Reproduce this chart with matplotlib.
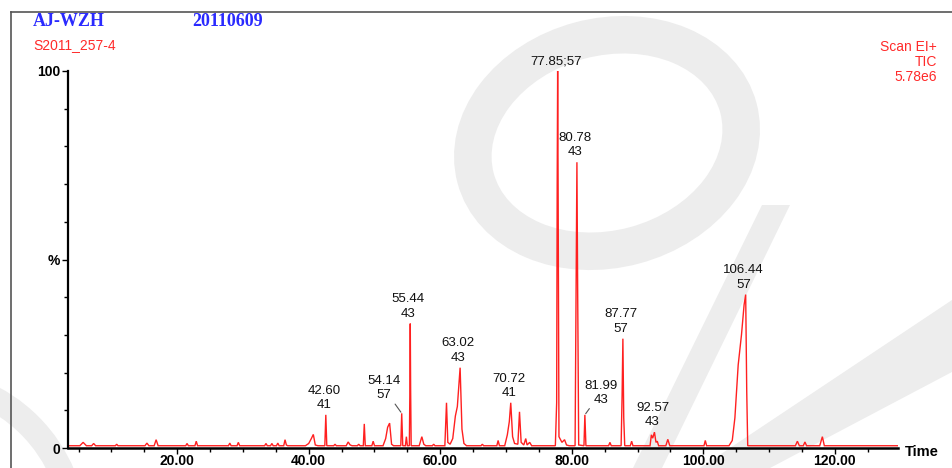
import numpy as np
import matplotlib
matplotlib.use("Agg")
import matplotlib.pyplot as plt
from matplotlib.patches import Ellipse, Polygon
from matplotlib.ticker import FixedLocator, MultipleLocator

# TIC trace, retention time (min) vs relative intensity (%)
trace_time = [
    3.4, 5.2, 5.7, 6.2, 7.0, 7.3, 7.6, 10.6, 10.8, 11.0, 15.1, 15.4, 15.7,
    16.5, 16.8, 17.1, 21.3, 21.5, 21.7, 22.7, 22.9, 23.1, 27.8, 28.0, 28.2,
    29.1, 29.3, 29.5, 33.3, 33.5, 33.7, 34.2, 34.4, 34.6, 35.1, 35.3, 35.5,
    36.2, 36.4, 36.6, 36.8, 39.5, 40.0, 40.4, 40.7, 41.0, 41.4,
    42.45, 42.6, 42.75, 43.8, 44.0, 44.2, 45.7, 46.0, 46.3, 46.6,
    47.4, 47.6, 47.8, 48.3, 48.45, 48.6, 49.6, 49.8, 50.0,
    51.3, 51.7, 52.0, 52.3, 52.6, 52.9, 54.0, 54.14, 54.3, 54.7, 54.85, 55.0,
    55.3, 55.38, 55.44, 55.5, 55.58, 56.8, 57.2, 57.5, 57.8, 58.8, 59.0, 59.2,
    60.7, 60.95, 61.15, 61.5, 61.9, 62.3, 62.6, 62.8, 63.02, 63.3, 63.6, 64.0,
    66.2, 66.4, 66.6, 68.6, 68.8, 69.0,
    69.8, 70.2, 70.5, 70.72, 71.0, 71.3, 71.8, 72.05, 72.3, 72.7, 73.0, 73.2,
    73.6, 73.9, 77.5, 77.7, 77.78, 77.85, 77.92, 78.05, 78.5, 78.9, 79.2, 79.6,
    80.5, 80.65, 80.78, 80.9, 81.05, 81.85, 81.99, 82.15, 85.6, 85.8, 86.0,
    87.5, 87.65, 87.77, 87.9, 88.05, 88.9, 89.1, 89.3,
    91.9, 92.1, 92.3, 92.57, 92.8, 93.0, 93.2, 94.3, 94.6, 94.9,
    100.1, 100.3, 100.5, 103.9, 104.4, 104.8, 105.3, 105.8, 106.2, 106.44,
    106.6, 106.75, 114.0, 114.3, 114.6, 115.2, 115.45, 115.7,
    117.7, 118.1, 118.4, 129.6,
]
trace_pct = [
    0.6, 0.6, 1.5, 0.6, 0.6, 1.2, 0.6, 0.6, 1.0, 0.6, 0.6, 1.3, 0.6,
    0.6, 2.2, 0.6, 0.6, 1.2, 0.6, 0.6, 1.8, 0.6, 0.6, 1.3, 0.6,
    0.6, 1.5, 0.6, 0.6, 1.2, 0.6, 0.6, 1.2, 0.6, 0.6, 1.3, 0.6,
    0.6, 2.2, 0.8, 0.6, 0.6, 1.2, 2.5, 3.6, 0.8, 0.6,
    0.6, 8.8, 0.6, 0.6, 1.0, 0.6, 0.6, 1.6, 0.8, 0.6,
    0.6, 1.0, 0.6, 0.6, 6.4, 0.6, 0.6, 1.8, 0.6,
    0.6, 2.5, 5.5, 6.6, 1.0, 0.6, 0.6, 9.2, 0.6, 0.6, 3.0, 0.6,
    0.6, 15.0, 33.0, 15.0, 0.6, 0.6, 3.0, 1.0, 0.6, 0.6, 1.0, 0.6,
    0.6, 12.0, 1.5, 1.0, 2.5, 8.5, 11.0, 16.0, 21.3, 5.0, 1.2, 0.6,
    0.6, 1.0, 0.6, 0.6, 2.0, 0.6,
    0.6, 3.5, 7.0, 12.0, 3.0, 1.2, 1.0, 9.6, 1.5, 0.8, 2.5, 0.8,
    1.5, 0.6, 0.6, 12.0, 70.0, 100.0, 70.0, 3.0, 1.5, 2.2, 0.8, 0.6,
    0.6, 40.0, 75.8, 40.0, 0.8, 0.6, 8.8, 0.6, 0.6, 1.5, 0.6,
    0.6, 14.0, 29.0, 8.0, 0.6, 0.6, 1.8, 0.6,
    0.6, 3.5, 2.6, 4.2, 1.5, 1.8, 0.6, 0.6, 2.3, 0.6,
    0.6, 2.0, 0.6, 0.6, 2.0, 8.0, 22.0, 30.0, 38.0, 40.7,
    15.0, 0.6, 0.6, 1.8, 0.6, 0.6, 1.6, 0.6,
    0.6, 3.0, 0.6, 0.6,
]

# labelled peaks: retention time and base peak m/z
peak_times = [42.60, 54.14, 55.44, 63.02, 70.72, 77.85, 80.78, 81.99, 87.77, 92.57, 106.44]
peak_mz = ["41", "57", "43", "43", "41", "57", "43", "43", "57", "43", "57"]

x_ticks = [20, 40, 60, 80, 100, 120]
x_tick_labels = ["20.00", "40.00", "60.00", "80.00", "100.00", "120.00"]

W, H = 952, 468
fig = plt.figure(figsize=(W / 100, H / 100), dpi=100)

# background layer in pixel units (frame + faint watermark)
bg = fig.add_axes([0, 0, 1, 1], zorder=0)
bg.set_xlim(0, W)
bg.set_ylim(H, 0)
bg.axis("off")
wm = "#ededed"
bg.add_patch(Ellipse((607, 143), 272, 212, angle=-15, fill=False, edgecolor=wm, lw=27))
bg.add_patch(Ellipse((-80, 535), 310, 310, fill=False, edgecolor=wm, lw=18))
bg.add_patch(Polygon([(633, 468), (662, 468), (790, 205), (762, 205)], closed=True, color=wm, lw=0))
bg.add_patch(Polygon([(700, 468), (770, 468), (952, 372), (952, 300)], closed=True, color=wm, lw=0))
bg.plot([11, W], [12, 12], color="#555555", lw=1.2)
bg.plot([11, 11], [12, H], color="#555555", lw=1.2)

ax = fig.add_axes([68 / W, 1 - 448 / H, (898 - 68) / W, (448 - 71) / H], zorder=1)
ax.patch.set_alpha(0)
ax.plot(trace_time, trace_pct, color="#ff2020", lw=1.0, solid_joinstyle="miter")
ax.set_xlim(3.4, 129.6)
ax.set_ylim(0, 100)

for side in ["top", "right"]:
    ax.spines[side].set_visible(False)
ax.spines["left"].set_linewidth(1.6)
ax.spines["bottom"].set_linewidth(1.8)

ax.xaxis.set_major_locator(FixedLocator(x_ticks))
ax.set_xticklabels(x_tick_labels)
ax.xaxis.set_minor_locator(MultipleLocator(5))
ax.set_yticks([0, 50, 100])
ax.set_yticklabels(["0", "%", "100"])
ax.yaxis.set_minor_locator(MultipleLocator(10))
ax.tick_params(axis="both", which="major", direction="out", length=4, width=1,
               labelsize=10)
ax.tick_params(axis="x", which="major", pad=0.3)
ax.tick_params(axis="y", which="major", pad=1.5)
ax.tick_params(axis="both", which="minor", direction="out", length=3, width=1)
for lbl in ax.get_xticklabels() + ax.get_yticklabels():
    lbl.set_fontfamily("Liberation Sans")
    lbl.set_fontweight("bold")

# peak labels
leaders = {54.14: (-18, 12), 81.99: (16, 9)}
for t, mz in zip(peak_times, peak_mz):
    h = np.interp(t, trace_time, trace_pct)
    if t == 77.85:
        txt = f"{t:.2f};{mz}"
    else:
        txt = f"{t:.2f}\n{mz}"
    dx, dy = leaders.get(t, (-2, 4))
    arrow = None
    if t in leaders:
        arrow = dict(arrowstyle="-", color="#555555", lw=0.8, shrinkA=0, shrinkB=1)
    ax.annotate(txt, xy=(t, h), xytext=(dx, dy), textcoords="offset pixels",
                ha="center", va="bottom", fontsize=9.5, family="Liberation Sans",
                color="#111111", linespacing=1.25, arrowprops=arrow)

# header texts
fig.text(33 / W, 1 - 22 / H, "AJ-WZH", color="#2a2aff", fontsize=13, fontweight="bold",
         family="Liberation Serif", va="center", ha="left")
fig.text(192 / W, 1 - 22 / H, "20110609", color="#2a2aff", fontsize=13, fontweight="bold",
         family="Liberation Serif", va="center", ha="left")
fig.text(33 / W, 1 - 45 / H, "S2011_257-4", color="#ff2a2a", fontsize=10,
         family="Liberation Sans", va="center", ha="left")
for i, s in enumerate(["Scan EI+", "TIC", "5.78e6"]):
    fig.text(937 / W, 1 - (47 + 15 * i) / H, s, color="#ff2a2a", fontsize=10,
             family="Liberation Sans", va="center", ha="right")
fig.text(905 / W, 1 - 452 / H, "Time", fontsize=10.5, fontweight="bold",
         family="Liberation Sans", va="center", ha="left")

fig.savefig("out.png", dpi=100)
